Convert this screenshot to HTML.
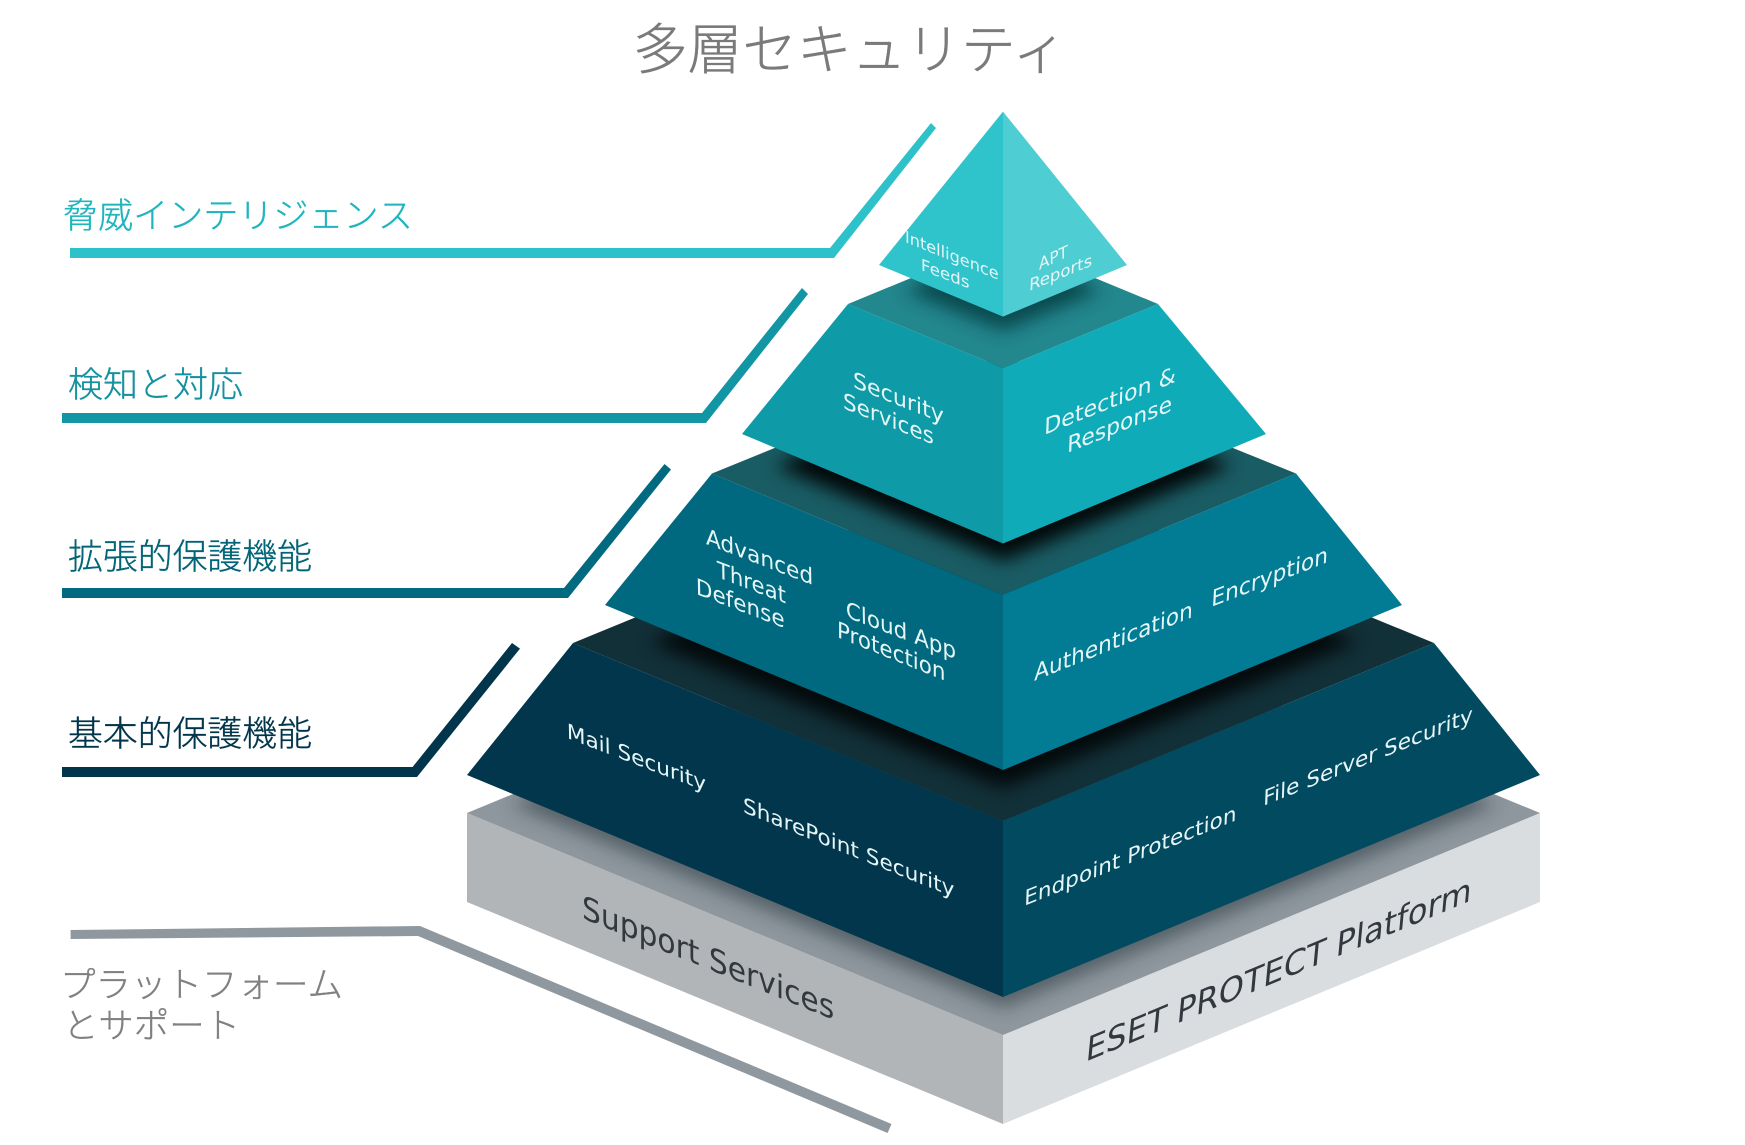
<!DOCTYPE html>
<html lang="ja"><head><meta charset="utf-8"><title>多層セキュリティ</title>
<style>html,body{margin:0;padding:0;background:#fff}svg{display:block}
.jp{font-family:"Liberation Sans","Noto Sans CJK JP","IPAGothic",sans-serif;font-weight:300;stroke-width:.35}
.d{font-family:"DejaVu Sans","Liberation Sans",sans-serif}
</style></head><body>
<svg xmlns="http://www.w3.org/2000/svg" width="1745" height="1145" viewBox="0 0 1745 1145">
<defs>
<filter id="b" x="-30%" y="-30%" width="160%" height="160%"><feGaussianBlur stdDeviation="9"/></filter>
<clipPath id="c1"><polygon points="848,304 1003,240 1158,304 1003,368"/></clipPath>
<clipPath id="c2"><polygon points="712,473.5 1003,355 1296,473.5 1003,594.6"/></clipPath>
<clipPath id="c3"><polygon points="573,643 1003,466 1434,643 1003,821"/></clipPath>
<clipPath id="c4"><polygon points="467,813 1003,592 1540,813 1003,1035"/></clipPath>
</defs>

<!-- leaders -->
<polygon fill="#2dc1c9" points="70,248 830,248 931,123 936,128 834,258 70,258"/>
<polygon fill="#1296a4" points="62,413 702,413 802,288 808,294 706,423 62,423"/>
<polygon fill="#016a80" points="62,588 564,588 664.5,464 671,469.5 568,598 62,598"/>
<polygon fill="#00354b" points="62,767 412.6,767 512,643 520,648.6 417,777 62,777"/>
<polygon fill="#8f989f" points="70.6,930 420,926 891.5,1124 887.6,1133 418,936 70.6,939"/>

<!-- base -->
<polygon fill="#b1b5b8" points="467,813 1003,1035 1003,1124 467,902"/>
<polygon fill="#dadde0" points="1540,813 1003,1035 1003,1124 1540,902"/>
<polygon fill="#8e979e" points="467,813 1003,592 1540,813 1003,1035"/>
<g clip-path="url(#c4)"><polygon filter="url(#b)" fill="#1c2a32" opacity=".5" points="510,804 1003,1008 1497,804 1003,600"/></g>

<!-- tier 4 -->
<polygon fill="#123038" points="573,643 1003,466 1434,643 1003,821"/>
<g clip-path="url(#c3)"><polygon filter="url(#b)" fill="#000" opacity=".8" points="650,642 1003,788 1357,642 1003,480"/></g>
<polygon fill="#01364c" points="573,643 1003,821 1003,997 467,775"/>
<polygon fill="#024a60" points="1434,643 1003,821 1003,997 1540,775"/>

<!-- tier 3 -->
<polygon fill="#1a5c64" points="712,473.5 1003,355 1296,473.5 1003,594.6"/>
<g clip-path="url(#c2)"><polygon filter="url(#b)" fill="#000" opacity=".9" points="775,466 1003,561 1232,466 1003,360"/></g>
<polygon fill="#01697f" points="712,473.5 1003,594.6 1003,770 605,605"/>
<polygon fill="#017c94" points="1296,473.5 1003,594.6 1003,770 1402,605"/>

<!-- tier 2 -->
<polygon fill="#23878e" points="848,304 1003,240 1158,304 1003,368"/>
<g clip-path="url(#c1)"><polygon filter="url(#b)" fill="#053438" opacity=".75" points="905,291 1003,331 1101,291 1003,240"/></g>
<polygon fill="#0f9aa8" points="848,304 1003,368 1003,543.5 742,434"/>
<polygon fill="#10abb8" points="1158,304 1003,368 1003,543.5 1266,434"/>

<!-- top -->
<polygon fill="#2fc4cc" points="1003,111.6 1003,316.6 879,265"/>
<polygon fill="#4ecdd2" points="1003,111.6 1003,316.6 1127,265"/>

<!-- headings -->
<text class="jp" x="633" y="69" font-size="55" fill="#7a7a7a" stroke="#7a7a7a" textLength="434" lengthAdjust="spacingAndGlyphs">多層セキュリティ</text>
<text class="jp" x="63" y="228" font-size="35" fill="#1fb5be" stroke="#1fb5be" textLength="350" lengthAdjust="spacingAndGlyphs">脅威インテリジェンス</text>
<text class="jp" x="68" y="397" font-size="35" fill="#15909e" stroke="#15909e" textLength="175" lengthAdjust="spacingAndGlyphs">検知と対応</text>
<text class="jp" x="68" y="569" font-size="35" fill="#016477" stroke="#016477" textLength="244" lengthAdjust="spacingAndGlyphs">拡張的保護機能</text>
<text class="jp" x="68" y="746" font-size="35" fill="#00354b" stroke="#00354b" textLength="244" lengthAdjust="spacingAndGlyphs">基本的保護機能</text>
<text class="jp" x="60" y="997" font-size="35" fill="#808080" stroke="#808080" textLength="283" lengthAdjust="spacingAndGlyphs">プラットフォーム</text>
<text class="jp" x="63" y="1038" font-size="35" fill="#808080" stroke="#808080" textLength="177" lengthAdjust="spacingAndGlyphs">とサポート</text>

<!-- face labels -->
<g class="d" fill="#e6f6f7">
<g font-size="15">
<text transform="translate(905,242) rotate(22) skewX(22)" textLength="101" lengthAdjust="spacingAndGlyphs">Intelligence</text>
<text transform="translate(921,270) rotate(21) skewX(22)" textLength="52" lengthAdjust="spacingAndGlyphs">Feeds</text>
<text transform="translate(1039,270) rotate(-25) skewX(-24)" textLength="32" lengthAdjust="spacingAndGlyphs">APT</text>
<text transform="translate(1029,291) rotate(-22) skewX(-24)" textLength="68" lengthAdjust="spacingAndGlyphs">Reports</text>
</g>
<g font-size="20.5">
<text transform="translate(853,387) rotate(22) skewX(22)" textLength="98" lengthAdjust="spacingAndGlyphs">Security</text>
<text transform="translate(843,408) rotate(22) skewX(22)" textLength="98" lengthAdjust="spacingAndGlyphs">Services</text>
<text transform="translate(1044,435) rotate(-22) skewX(-24)" textLength="142" lengthAdjust="spacingAndGlyphs">Detection &amp;</text>
<text transform="translate(1067,453) rotate(-22) skewX(-24)" textLength="113" lengthAdjust="spacingAndGlyphs">Response</text>
</g>
<g font-size="21">
<text transform="translate(706,544) rotate(21) skewX(22)" textLength="115" lengthAdjust="spacingAndGlyphs">Advanced</text>
<text transform="translate(717,577) rotate(21) skewX(22)" textLength="74" lengthAdjust="spacingAndGlyphs">Threat</text>
<text transform="translate(696,594) rotate(21) skewX(22)" textLength="95" lengthAdjust="spacingAndGlyphs">Defense</text>
<text transform="translate(846,617) rotate(21) skewX(22)" textLength="118" lengthAdjust="spacingAndGlyphs">Cloud App</text>
<text transform="translate(837,637) rotate(22) skewX(22)" textLength="117" lengthAdjust="spacingAndGlyphs">Protection</text>
<text transform="translate(1034,681) rotate(-22) skewX(-24)" textLength="171" lengthAdjust="spacingAndGlyphs">Authentication</text>
<text transform="translate(1211,607) rotate(-21) skewX(-24)" textLength="125" lengthAdjust="spacingAndGlyphs">Encryption</text>
</g>
<g font-size="19.5">
<text transform="translate(567,738) rotate(21) skewX(22)" textLength="149" lengthAdjust="spacingAndGlyphs">Mail Security</text>
<text transform="translate(743,812) rotate(22) skewX(22)" textLength="228" lengthAdjust="spacingAndGlyphs">SharePoint Security</text>
<text transform="translate(1024,906) rotate(-22) skewX(-24)" textLength="229" lengthAdjust="spacingAndGlyphs">Endpoint Protection</text>
<text transform="translate(1263,806) rotate(-22) skewX(-24)" textLength="226" lengthAdjust="spacingAndGlyphs">File Server Security</text>
</g>
</g>
<text class="d" fill="#33383e" font-size="30" transform="translate(1085,1062) rotate(-22.7) skewX(-28)" textLength="418" lengthAdjust="spacingAndGlyphs">ESET PROTECT Platform</text>
<text class="d" fill="#33383e" font-size="30" transform="translate(582,918) rotate(22) skewX(22)" textLength="272" lengthAdjust="spacingAndGlyphs">Support Services</text>
</svg>
</body></html>
